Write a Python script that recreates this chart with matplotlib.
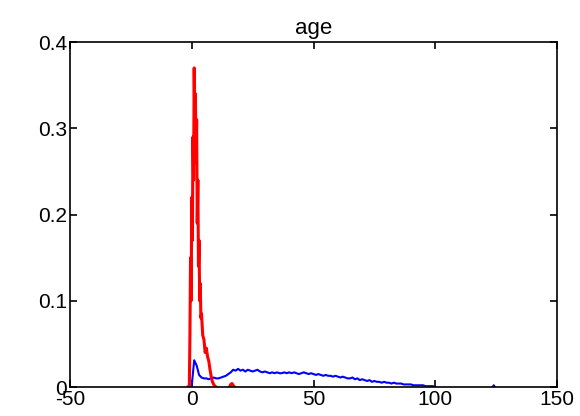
import matplotlib.pyplot as plt

plt.rcParams['font.family'] = ['Liberation Sans', 'DejaVu Sans']

# red series (fine sampling around the spike)
red_age = [-1.5, -1.0, -0.75, -0.5, -0.25, 0.0, 0.25, 0.5, 0.75, 1.0, 1.25, 1.5, 1.75,
           2.0, 2.25, 2.5, 2.75, 3.0, 3.25, 3.5, 3.75, 4.0, 4.5, 5.0, 5.5, 6.0,
           6.5, 7.0, 7.5, 8.0, 8.5, 9.0, 9.5, 10.0]
red_val = [0.0, 0.0, 0.06, 0.15, 0.10, 0.22, 0.17, 0.29, 0.24, 0.37, 0.30, 0.34, 0.26,
           0.31, 0.19, 0.24, 0.14, 0.17, 0.10, 0.12, 0.08, 0.085, 0.06, 0.055, 0.04, 0.045,
           0.035, 0.03, 0.02, 0.012, 0.006, 0.003, 0.001, 0.0]
red_age2 = [15.5, 16.0, 16.5, 17.0, 17.5]
red_val2 = [0.0, 0.003, 0.004, 0.002, 0.0]

# blue series, one value per year 0..100
blue_age = list(range(0, 101))
blue_val = [0.002, 0.031, 0.025, 0.014, 0.011, 0.010, 0.010, 0.009, 0.010, 0.011,
            0.010, 0.010, 0.011, 0.012, 0.013, 0.015, 0.017, 0.020, 0.019, 0.021,
            0.019, 0.020, 0.018, 0.020, 0.019, 0.018, 0.019, 0.020, 0.018, 0.017,
            0.018, 0.017, 0.016, 0.017, 0.016, 0.017, 0.016, 0.016, 0.017, 0.016,
            0.017, 0.016, 0.017, 0.016, 0.015, 0.016, 0.017, 0.016, 0.015, 0.016,
            0.015, 0.014, 0.015, 0.014, 0.013, 0.014, 0.013, 0.013, 0.012, 0.013,
            0.012, 0.011, 0.012, 0.011, 0.010, 0.010, 0.011, 0.009, 0.010, 0.008,
            0.009, 0.008, 0.007, 0.008, 0.006, 0.007, 0.006, 0.006, 0.005, 0.006,
            0.005, 0.005, 0.004, 0.005, 0.004, 0.004, 0.004, 0.003, 0.003, 0.003,
            0.003, 0.002, 0.002, 0.002, 0.002, 0.002, 0.001, 0.001, 0.001, 0.001,
            0.0]
blue_age2 = [123.5, 124.0, 124.5]
blue_val2 = [0.0, 0.002, 0.0]

xticks = [-50, 0, 50, 100, 150]
yticks = [0, 0.1, 0.2, 0.3, 0.4]

fig = plt.figure(figsize=(5.8, 4.16), dpi=100)
ax = fig.add_axes([0.1207, 0.0697, 0.8397, 0.8293])

ax.plot(blue_age, blue_val, color='blue', linewidth=1.5)
ax.plot(blue_age2, blue_val2, color='blue', linewidth=1.5)
ax.plot(red_age, red_val, color='red', linewidth=2.2)
ax.plot(red_age2, red_val2, color='red', linewidth=2.2)

ax.set_xlim(-50, 150)
ax.set_ylim(0, 0.4)
ax.set_xticks(xticks)
ax.set_yticks(yticks)
ax.set_xticklabels([str(t) for t in xticks])
ax.set_yticklabels(['0', '0.1', '0.2', '0.3', '0.4'])
ax.tick_params(direction='in', top=True, right=True, length=5, width=1.2,
               labelsize=15, pad=2)
for s in ax.spines.values():
    s.set_linewidth(1.2)

ax.set_title('age', fontsize=16, pad=6)

plt.savefig('out.png', dpi=100)
